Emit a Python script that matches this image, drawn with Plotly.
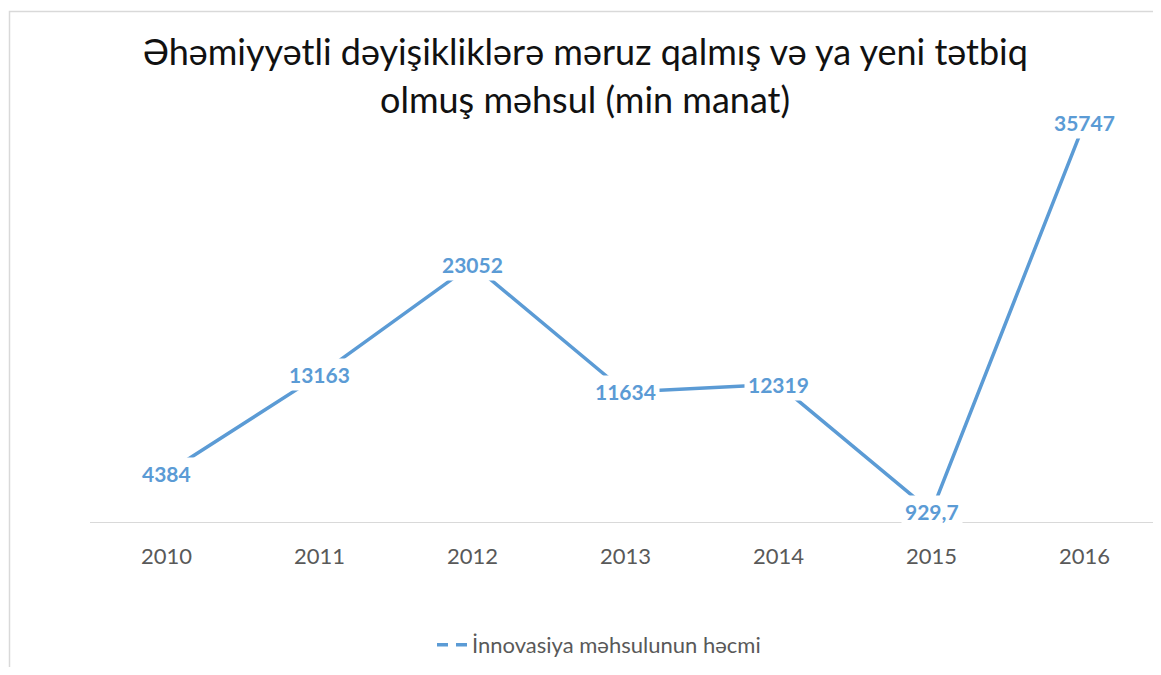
import plotly.graph_objects as go

years = ["2010", "2011", "2012", "2013", "2014", "2015", "2016"]
values = [4384, 13163, 23052, 11634, 12319, 929.7, 35747]
series_name = "İnnovasiya məhsulunun həcmi"
title_lines = ["Əhəmiyyətli dəyişikliklərə məruz qalmış və ya yeni tətbiq",
               "olmuş məhsul (min manat)"]

labels = [f"{v:g}".replace(".", ",") for v in values]

# page body has an 8px margin: design in screenshot pixels, shift by OFF
OFF = 8
W, H = 1161 - OFF, 675 - 2 * OFF
L, R = 90 - OFF, 0
T = 75 - OFF
B = H - (522 - OFF)
pw, ph = W - L - R, H - T - B

def px_x(x):
    return (x - OFF - L) / pw

def px_y(y):
    return (H - B - (y - OFF)) / ph

BLUE = "#5B9BD5"
FONT = "Lato"

fig = go.Figure()
fig.add_trace(go.Scatter(x=years, y=values, mode="lines",
                         line=dict(color=BLUE, width=3.5), showlegend=False,
                         hoverinfo="x+y"))
fig.add_trace(go.Scatter(x=[years[0]], y=[None], mode="lines", name=series_name,
                         line=dict(color=BLUE, width=3.5, dash="11px,8px"),
                         showlegend=True, hoverinfo="skip"))

annotations = []
for i, (v, lab) in enumerate(zip(values, labels)):
    annotations.append(dict(x=i, y=v, xref="x", yref="y", text=f"<b>{lab}</b>",
                            showarrow=False, bgcolor="white", borderpad=3,
                            font=dict(family=FONT, size=21, color=BLUE),
                            xanchor="center", yanchor="middle"))

for line, ypx in zip(title_lines, [51, 99]):
    annotations.append(dict(x=px_x(585), y=px_y(ypx), xref="paper", yref="paper",
                            text=line, showarrow=False,
                            font=dict(family=FONT, size=36, color="#111111"),
                            xanchor="center", yanchor="middle"))

fig.update_layout(
    width=W, height=H,
    margin=dict(l=L, r=R, t=T, b=B),
    paper_bgcolor="white", plot_bgcolor="white",
    annotations=annotations,
    shapes=[dict(type="rect", xref="paper", yref="paper",
                 x0=px_x(9.5), x1=px_x(1160.5), y0=px_y(700), y1=px_y(11.5),
                 line=dict(color="#d9d9d9", width=1.5), fillcolor="rgba(0,0,0,0)",
                 layer="below")],
    xaxis=dict(type="category", categoryorder="array", categoryarray=years,
               range=[-0.5, len(years) - 0.5], showgrid=False, zeroline=False,
               showline=True, linecolor="#d9d9d9", linewidth=1,
               ticks="", ticklabelstandoff=15,
               tickfont=dict(family=FONT, size=22, color="#595959")),
    yaxis=dict(range=[0, 40000], showgrid=False, zeroline=False,
               showticklabels=False, showline=False),
    legend=dict(orientation="h", x=px_x(432), y=px_y(645), xanchor="left",
                yanchor="middle", font=dict(family=FONT, size=22, color="#595959"),
                bgcolor="rgba(0,0,0,0)"),
    showlegend=True,
)

fig.write_html("out.html")
